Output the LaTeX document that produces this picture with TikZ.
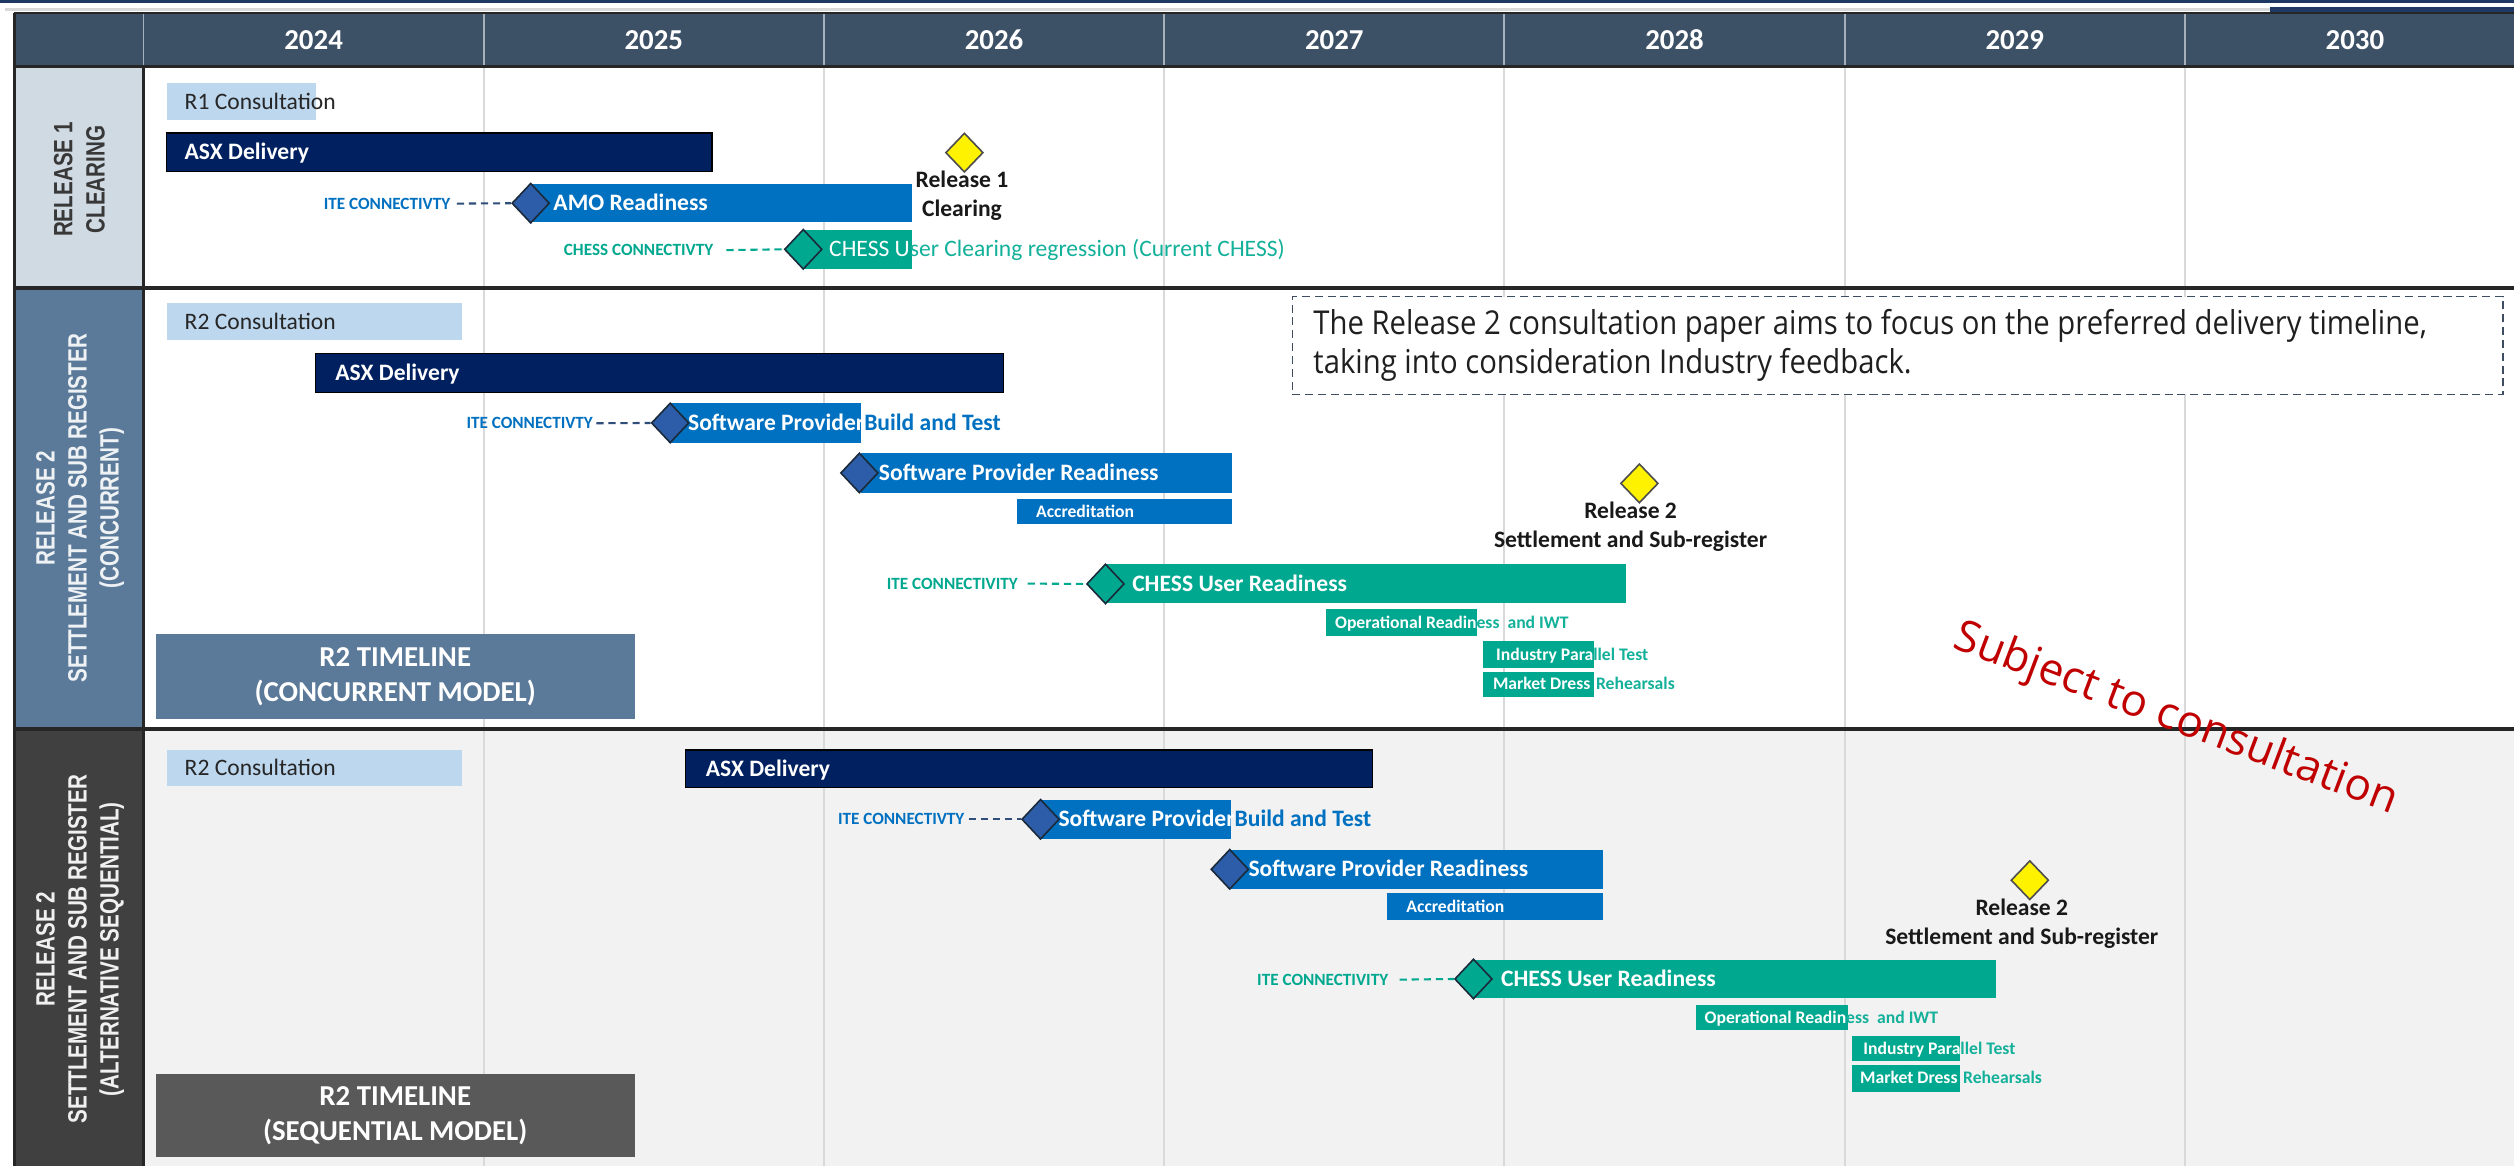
\documentclass[tikz,border=0pt]{standalone}
\usepackage{fontspec}
\setmainfont{Carlito}
\newfontfamily\osans{Open Sans}
\newfontfamily\boxfont[FakeStretch=0.89]{Open Sans}
\newfontfamily\sidefont[FakeStretch=0.78]{Liberation Sans}
\usetikzlibrary{shapes.geometric}
\newcommand\fs[2]{\fontsize{#1}{#2}\selectfont}
\definecolor{navytop}{HTML}{1F3864}
\definecolor{hdr}{HTML}{3D5166}
\definecolor{hsepc}{HTML}{A7B0BA}
\definecolor{gridc}{HTML}{D9D9D9}
\definecolor{framec}{HTML}{262626}
\definecolor{lab1}{HTML}{D0DAE3}
\definecolor{lab2}{HTML}{5B7A99}
\definecolor{lab3}{HTML}{404040}
\definecolor{bg3}{HTML}{F2F2F2}
\definecolor{consc}{HTML}{BDD7EE}
\definecolor{navyb}{HTML}{002060}
\definecolor{blueb}{HTML}{0070C0}
\definecolor{tealb}{HTML}{00A88F}
\definecolor{tealt}{HTML}{13B09A}
\definecolor{diablue}{HTML}{2D5DA8}
\definecolor{diaedge}{HTML}{1B2A3A}
\definecolor{mileedge}{HTML}{4D4D4D}
\definecolor{dashblue}{HTML}{2F4E7A}
\definecolor{notec}{HTML}{3E4D60}
\definecolor{redt}{HTML}{C00000}
\definecolor{tlthree}{HTML}{595959}
\tikzset{
  barbox/.style={rectangle, inner sep=0pt, outer sep=0pt, anchor=north west},
  consbar/.style={barbox, fill=consc},
  asxbar/.style={barbox, fill=navyb, draw=black, line width=0.8pt},
  bluebar/.style={barbox, fill=blueb},
  tealbar/.style={barbox, fill=tealb},
  lbl/.style={inner sep=0pt, anchor=west, font=\bfseries\fs{14.7}{17}, text height=9.4pt, text depth=0pt, text=white},
  lblreg/.style={lbl, font=\fs{14.7}{17}},
  slbl/.style={inner sep=0pt, anchor=west, font=\bfseries\fs{11}{13}, text height=7.1pt, text depth=0pt, text=white},
  itelbl/.style={inner sep=0pt, anchor=east, font=\bfseries\fs{10.7}{12}, text height=6.9pt, text depth=0pt},
  conn/.style={dash pattern=on 4.5pt off 3pt, line width=1.3pt},
  dia/.style={diamond, draw=diaedge, line width=1pt, inner sep=0pt, minimum width=23.5pt, minimum height=25pt},
  mile/.style={diamond, draw=mileedge, fill=yellow, line width=1pt, inner sep=0pt, minimum width=23.5pt, minimum height=24.5pt},
  miletxt/.style={align=center, font=\bfseries\fs{14.7}{17.8}, text=black!90, inner sep=0pt},
  side/.style={rotate=90, align=center, font=\sidefont\bfseries\fs{16.5}{20}, inner sep=0pt},
  tlbox/.style={barbox, text=white, align=center, font=\bfseries\fs{18}{22}},
  year/.style={text=white, font=\bfseries\fs{18}{20}, inner sep=0pt},
  grid/.style={gridc, line width=1.2pt},
  hsep/.style={hsepc, line width=1.2pt},
  frame/.style={framec, line width=1.8pt},
  rowsep/.style={framec, line width=2.4pt},
}
\begin{document}
\begin{tikzpicture}[x=1pt,y=-1pt]
\useasboundingbox (0,0) rectangle (1568,727.3);
\fill[white] (0,0) rectangle (1568,727.3);
% top lines
\fill[navytop] (0,0) rectangle (1568,1.8);
\fill[gridc] (3,5) rectangle (1416,7);
\fill[navytop] (1416,4.2) rectangle (1568,8);
% header and backgrounds
\fill[hdr] (9,8.3) rectangle (1568,41.6);
\fill[bg3] (89.5,454.5) rectangle (1568,727.3);
\fill[lab1] (9,41.6) rectangle (89.5,179.5);
\fill[lab2] (9,179.5) rectangle (89.5,454.5);
\fill[lab3] (9,454.5) rectangle (89.5,727.3);
% grid
\foreach \i in {1,...,6} {
  \draw[grid] ({89.5+212.2*\i},41.6) -- ({89.5+212.2*\i},727.3);
  \draw[hsep] ({89.5+212.2*\i},8.3) -- ({89.5+212.2*\i},41.6);
}
\draw[hsep] (89.5,8.3) -- (89.5,41.6);
\foreach \yr [count=\i from 0] in {2024,...,2030}
  \node[year] (y\yr) at ({89.5+212.2*\i+106.1},25) {\yr};
% frame
\draw[framec, line width=1.2pt] (9,8.3) -- (1568,8.3);
\draw[frame] (9,8.3) -- (9,727.3);
\draw[frame] (89.5,41.6) -- (89.5,727.3);
\draw[frame] (9,41.6) -- (1568,41.6);
\draw[rowsep] (9,179.5) -- (1568,179.5);
\draw[rowsep] (9,454.5) -- (1568,454.5);
% side labels
\node[side, text=black!78] (side1) at (49.5,112) {RELEASE 1\\CLEARING};
\node[side, text=white!90!lab2] (side2) at (50,317) {RELEASE 2\\SETTLEMENT AND SUB REGISTER\\(CONCURRENT)};
\node[side, text=white!92!lab3] (side3) at (50,592) {RELEASE 2\\SETTLEMENT AND SUB REGISTER\\(ALTERNATIVE SEQUENTIAL)};

% ================= ROW 1 =================
\node[consbar, minimum width=93pt, minimum height=23pt] (r1c) at (104,52) {};
\node[lblreg, text=black!85] (r1c-l) at (115,63.5) {R1 Consultation};
\node[asxbar, minimum width=340pt, minimum height=24pt] (asx1) at (104,83) {};
\node[lbl] (asx1-l) at (115,95) {ASX Delivery};
\node[bluebar, minimum width=238pt, minimum height=23.5pt] (amo) at (331,115) {};
\node[lbl] (amo-l) at (345,126.75) {AMO Readiness};
\node[dia, fill=diablue] (d1) at (331,126.75) {};
\node[itelbl, text=blueb] (ite1) at (281,127) {ITE CONNECTIVTY};
\draw[conn, dashblue] (ite1.east) ++(4,0) -- (d1.west);
\node[tealbar, minimum width=68pt, minimum height=24pt] (cus1) at (501,143.5) {};
\node[lblreg] (cus1-l) at (517,155.5) {\textcolor{white}{CHESS U}\textcolor{tealt}{ser Clearing regression (Current CHESS)}};
\node[dia, fill=tealb] (d2) at (501,155.5) {};
\node[itelbl, text=tealb] (chc1) at (445,156) {CHESS CONNECTIVTY};
\draw[conn, tealb] (chc1.east) ++(8,0) -- (d2.west);
\node[mile] (m1) at (601.5,95.2) {};
\node[miletxt] (m1-t) at (600,122.2) {Release 1\\Clearing};

% ================= ROW 2 =================
\node[consbar, minimum width=184pt, minimum height=23pt] (r2c) at (104,189) {};
\node[lblreg, text=black!85] (r2c-l) at (115,200.5) {R2 Consultation};
\node[asxbar, minimum width=429pt, minimum height=24.5pt] (asx2) at (197,220.5) {};
\node[lbl] (asx2-l) at (209,232.7) {ASX Delivery};
\node[bluebar, minimum width=120pt, minimum height=24.4pt] (spb2) at (417,251.6) {};
\node[lbl] (spb2-l) at (429,263.8) {\textcolor{white}{Software Provider}\textcolor{blueb}{ Build and Test}};
\node[dia, fill=diablue] (d3) at (418,263.8) {};
\node[itelbl, text=blueb] (ite2) at (370,264) {ITE CONNECTIVTY};
\draw[conn, dashblue] (ite2.east) ++(2,0) -- (d3.west);
\node[bluebar, minimum width=231.6pt, minimum height=24.4pt] (spr2) at (537,282.8) {};
\node[lbl] (spr2-l) at (548,295) {Software Provider Readiness};
\node[dia, fill=diablue] (d4) at (536,295) {};
\node[bluebar, minimum width=134.6pt, minimum height=16pt] (acc2) at (634,311) {};
\node[slbl] (acc2-l) at (646,319) {Accreditation};
\node[tealbar, minimum width=324pt, minimum height=24.4pt] (cur2) at (690,352) {};
\node[lbl] (cur2-l) at (706,364.2) {CHESS User Readiness};
\node[dia, fill=tealb] (d5) at (689.5,364.2) {};
\node[itelbl, text=tealb] (itc2) at (635,364) {ITE CONNECTIVITY};
\draw[conn, tealb] (itc2.east) ++(6,0) -- (d5.west);
\node[tealbar, minimum width=94.5pt, minimum height=16.4pt] (opr2) at (827,380) {};
\node[slbl] (opr2-l) at (832.5,388.2) {\textcolor{white}{Operational Readin}\textcolor{tealt}{ess\hspace{5pt}and IWT}};
\node[tealbar, minimum width=69pt, minimum height=16.4pt] (ipt2) at (925,400) {};
\node[slbl] (ipt2-l) at (933,408.2) {\textcolor{white}{Industry Para}\textcolor{tealt}{llel Test}};
\node[tealbar, minimum width=69pt, minimum height=15.6pt] (mdr2) at (925,419) {};
\node[slbl] (mdr2-l) at (931,426.8) {\textcolor{white}{Market Dress}\hspace{3.5pt}\textcolor{tealt}{Rehearsals}};
\node[mile] (m2) at (1022.5,301.5) {};
\node[miletxt] (m2-t) at (1017,328.5) {Release 2\\Settlement and Sub-register};
\node[tlbox, fill=lab2, minimum width=299pt, minimum height=53.2pt] (tl2) at (97,395.5) {R2 TIMELINE\\(CONCURRENT MODEL)};

% note box
\node[barbox, fill=white, draw=notec, dash pattern=on 5pt off 3pt, line width=0.9pt, minimum width=755pt, minimum height=61pt] (note) at (806,185) {};
\node[inner sep=0pt, anchor=west, align=left, font=\boxfont\fs{20.5}{24}, text=black!88] (note-t) at ([xshift=13pt]note.west) {The Release 2 consultation paper aims to focus on the preferred delivery timeline,\\taking into consideration Industry feedback.};

% ================= ROW 3 =================
\node[consbar, minimum width=184pt, minimum height=22.5pt] (r3c) at (104,467.7) {};
\node[lblreg, text=black!85] (r3c-l) at (115,478.9) {R2 Consultation};
\node[asxbar, minimum width=428.5pt, minimum height=23.3pt] (asx3) at (427.5,467.7) {};
\node[lbl] (asx3-l) at (440,479.4) {ASX Delivery};
\node[bluebar, minimum width=119pt, minimum height=24.2pt] (spb3) at (648.6,499) {};
\node[lbl] (spb3-l) at (660,511) {\textcolor{white}{Software Provider}\textcolor{blueb}{ Build and Test}};
\node[dia, fill=diablue] (d6) at (649,511) {};
\node[itelbl, text=blueb] (ite3) at (601.7,511) {ITE CONNECTIVTY};
\draw[conn, dashblue] (ite3.east) ++(2.5,0) -- (d6.west);
\node[bluebar, minimum width=232pt, minimum height=24.4pt] (spr3) at (767.5,530) {};
\node[lbl] (spr3-l) at (778.5,542.2) {Software Provider Readiness};
\node[dia, fill=diablue] (d7) at (767,542.2) {};
\node[bluebar, minimum width=134.5pt, minimum height=16.7pt] (acc3) at (865,557) {};
\node[slbl] (acc3-l) at (877,565.4) {Accreditation};
\node[tealbar, minimum width=325.4pt, minimum height=24pt] (cur3) at (919.6,598.6) {};
\node[lbl] (cur3-l) at (936,610.6) {CHESS User Readiness};
\node[dia, fill=tealb] (d8) at (919,610.6) {};
\node[itelbl, text=tealb] (itc3) at (866,611) {ITE CONNECTIVITY};
\draw[conn, tealb] (itc3.east) ++(7,0) -- (d8.west);
\node[tealbar, minimum width=94.5pt, minimum height=15.7pt] (opr3) at (1058,627) {};
\node[slbl] (opr3-l) at (1063,634.9) {\textcolor{white}{Operational Readin}\textcolor{tealt}{ess\hspace{5pt}and IWT}};
\node[tealbar, minimum width=67.6pt, minimum height=15.7pt] (ipt3) at (1155,646) {};
\node[slbl] (ipt3-l) at (1162,653.9) {\textcolor{white}{Industry Para}\textcolor{tealt}{llel Test}};
\node[tealbar, minimum width=67.6pt, minimum height=16.8pt] (mdr3) at (1155,664) {};
\node[slbl] (mdr3-l) at (1160,672.4) {\textcolor{white}{Market Dress}\hspace{3.5pt}\textcolor{tealt}{Rehearsals}};
\node[mile] (m3) at (1266,549) {};
\node[miletxt] (m3-t) at (1261,576) {Release 2\\Settlement and Sub-register};
\node[tlbox, fill=tlthree, minimum width=299pt, minimum height=52pt] (tl3) at (97,669.7) {R2 TIMELINE\\(SEQUENTIAL MODEL)};

% watermark
\node[rotate=-20.7, text=redt, font=\osans\fs{27.5}{32}, inner sep=0pt] (subj) at (1357,449) {Subject to consultation};
\end{tikzpicture}
\end{document}
